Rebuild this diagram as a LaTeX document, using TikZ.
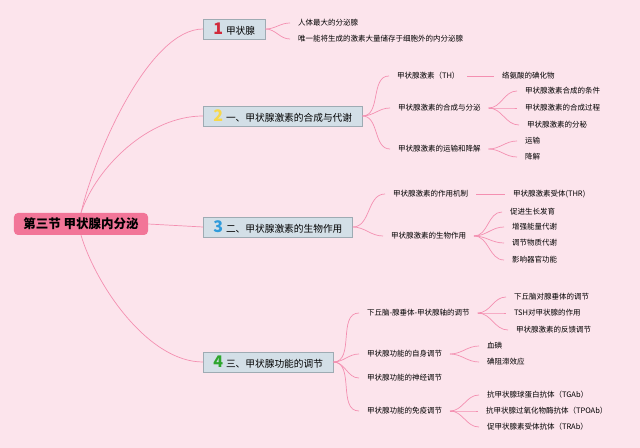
\documentclass[tikz,border=0pt]{standalone}
\usepackage{fontspec}
\setmainfont{Noto Sans CJK SC}
\definecolor{bgpink}{HTML}{FCE4EC}
\definecolor{linkpink}{HTML}{F48FB1}
\definecolor{rootpink}{HTML}{F27598}
\definecolor{boxfill}{HTML}{D3DFE7}
\definecolor{boxline}{HTML}{9EABB3}
\definecolor{numred}{HTML}{D12B3C}
\definecolor{numyellow}{HTML}{F7D84B}
\definecolor{numblue}{HTML}{2F9BDB}
\definecolor{numgreen}{HTML}{2EA62E}
\newcommand{\branchnum}[2]{{\color{#1}\fontsize{16bp}{16bp}\selectfont\bfseries #2}\hspace{3bp}}

\begin{document}
\begin{tikzpicture}[x=1bp, y=-1bp,
    root/.style   = {fill=rootpink, rounded corners=4bp, minimum width=134bp,
                     minimum height=22bp, inner sep=0pt,
                     font=\fontsize{12.5bp}{14bp}\selectfont\bfseries},
    branch/.style = {draw=boxline, fill=boxfill, line width=0.6bp, anchor=west,
                     minimum height=20bp, inner xsep=10bp, inner ysep=0pt,
                     font=\fontsize{9.7bp}{11bp}\selectfont},
    leaf/.style   = {anchor=west, inner sep=0pt, outer xsep=8bp,
                     font=\fontsize{7.5bp}{9bp}\selectfont},
    link/.style   = {draw=linkpink, line width=0.7bp},
    fan/.style    = {out=0, in=180},
]
\fill[bgpink] (0,0) rectangle (640,448);
\useasboundingbox (0,0) rectangle (640,448);

% root and the four branches
\node[root]   (root) at (81,224)  {第三节 甲状腺内分泌};
\node[branch] (b1)   at (203,29)  {\branchnum{numred}{1}甲状腺};
\node[branch] (b2)   at (203,116) {\branchnum{numyellow}{2}一、甲状腺激素的合成与代谢};
\node[branch] (b3)   at (203,227) {\branchnum{numblue}{3}二、甲状腺激素的生物作用};
\node[branch] (b4)   at (203,362) {\branchnum{numgreen}{4}三、甲状腺功能的调节};

\draw[link] (root.north) .. controls +(15,-63) and +(-53,0) .. (b1.west);
\draw[link] (root.north) .. controls +(15,-45) and +(-55,0) .. (b2.west);
\draw[link] (root.east) -- (b3.west);
\draw[link] (root.south) .. controls +(15,50) and +(-55,0) .. (b4.west);

% branch 1
\node[leaf] (big)   at (290,23) {人体最大的分泌腺};
\node[leaf] (store) at (290,39) {唯一能将生成的激素大量储存于细胞外的内分泌腺};
\draw[link] (b1.east) to[fan] (big.west);
\draw[link] (b1.east) to[fan] (store.west);

% branch 2
\node[leaf] (th)    at (389,76)  {甲状腺激素（TH）};
\node[leaf] (iod)   at (494,76)  {络氨酸的碘化物};
\node[leaf] (syn)   at (390,108) {甲状腺激素的合成与分泌};
\node[leaf] (cond)  at (517,91)  {甲状腺激素合成的条件};
\node[leaf] (proc)  at (517,108) {甲状腺激素的合成过程};
\node[leaf] (secr)  at (519,125) {甲状腺激素的分秘};
\node[leaf] (trans) at (390,149) {甲状腺激素的运输和降解};
\node[leaf] (move)  at (517,141) {运输};
\node[leaf] (degr)  at (517,157) {降解};
\draw[link] (b2.east) to[fan] (th.west);
\draw[link] (b2.east) to[fan] (syn.west);
\draw[link] (b2.east) to[fan] (trans.west);
\draw[link] (th.east) -- (iod.west);
\draw[link] (syn.east) to[fan] (cond.west);
\draw[link] (syn.east) to[fan] (proc.west);
\draw[link] (syn.east) to[fan] (secr.west);
\draw[link] (trans.east) to[fan] (move.west);
\draw[link] (trans.east) to[fan] (degr.west);

% branch 3
\node[leaf] (mech)  at (385,194) {甲状腺激素的作用机制};
\node[leaf] (thr)   at (505,194) {甲状腺激素受体(THR)};
\node[leaf] (bio)   at (383,236) {甲状腺激素的生物作用};
\node[leaf] (grow)  at (502,212) {促进生长发育};
\node[leaf] (ener)  at (504,227) {增强能量代谢};
\node[leaf] (subs)  at (504,243) {调节物质代谢};
\node[leaf] (organ) at (504,260) {影响器官功能};
\draw[link] (b3.east) to[fan] (mech.west);
\draw[link] (b3.east) to[fan] (bio.west);
\draw[link] (mech.east) -- (thr.west);
\draw[link] (bio.east) to[fan] (grow.west);
\draw[link] (bio.east) to[fan] (ener.west);
\draw[link] (bio.east) to[fan] (subs.west);
\draw[link] (bio.east) to[fan] (organ.west);

% branch 4
\node[leaf] (axis)  at (359,313) {下丘脑-腺垂体-甲状腺轴的调节};
\node[leaf] (hypo)  at (506,297) {下丘脑对腺垂体的调节};
\node[leaf] (tsh)   at (506,313) {TSH对甲状腺的作用};
\node[leaf] (feed)  at (508,330) {甲状腺激素的反馈调节};
\node[leaf] (self)  at (359,354) {甲状腺功能的自身调节};
\node[leaf] (blood) at (479,346) {血碘};
\node[leaf] (block) at (479,362) {碘阻滞效应};
\node[leaf] (nerve) at (359,378) {甲状腺功能的神经调节};
\node[leaf] (immu)  at (359,411) {甲状腺功能的免疫调节};
\node[leaf] (tgab)  at (479,395) {抗甲状腺球蛋白抗体（TGAb）};
\node[leaf] (tpoab) at (478,411) {抗甲状腺过氧化物酶抗体（TPOAb）};
\node[leaf] (trab)  at (479,427) {促甲状腺素受体抗体（TRAb）};
\draw[link] (b4.east) to[fan] (axis.west);
\draw[link] (b4.east) to[fan] (self.west);
\draw[link] (b4.east) to[fan] (nerve.west);
\draw[link] (b4.east) to[fan] (immu.west);
\draw[link] (axis.east) to[fan] (hypo.west);
\draw[link] (axis.east) to[fan] (tsh.west);
\draw[link] (axis.east) to[fan] (feed.west);
\draw[link] (self.east) to[fan] (blood.west);
\draw[link] (self.east) to[fan] (block.west);
\draw[link] (immu.east) to[fan] (tgab.west);
\draw[link] (immu.east) to[fan] (tpoab.west);
\draw[link] (immu.east) to[fan] (trab.west);
\end{tikzpicture}
\end{document}
